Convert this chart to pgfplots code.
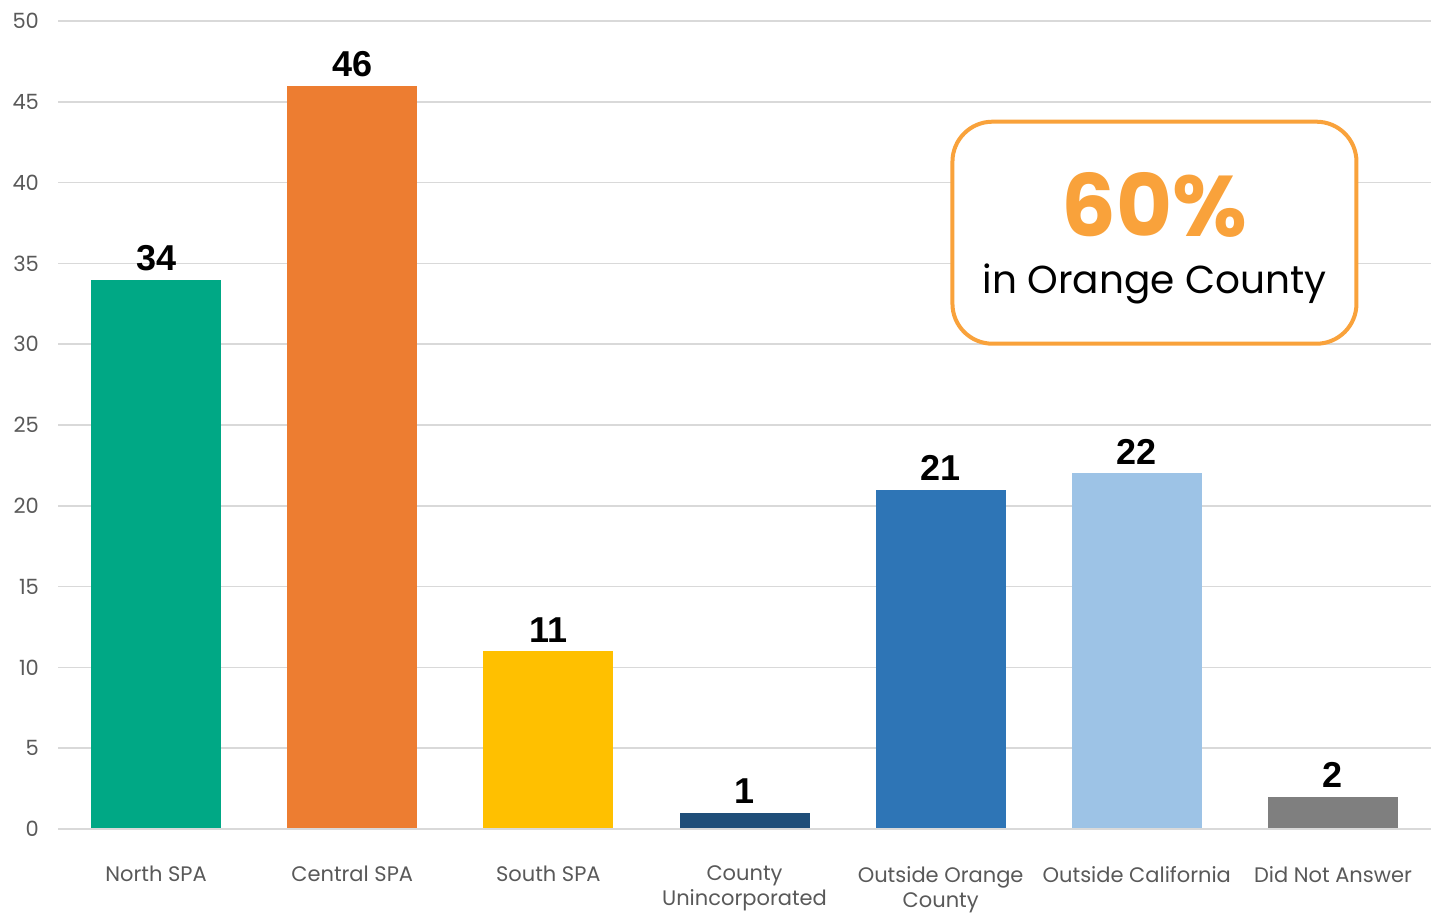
\documentclass[border=0pt]{standalone}
\usepackage{pgfplots}
\pgfplotsset{compat=1.18}
\usepackage{fontspec}
\setmainfont{Poppins}
\newfontfamily\numfont{Liberation Sans}
\definecolor{cteal}{HTML}{00A885}
\definecolor{corange}{HTML}{ED7D31}
\definecolor{cyellow}{HTML}{FFC000}
\definecolor{cnavy}{HTML}{1F4E79}
\definecolor{cblue}{HTML}{2E75B6}
\definecolor{clblue}{HTML}{9DC3E6}
\definecolor{cgray}{HTML}{7F7F7F}
\definecolor{gridc}{HTML}{D9D9D9}
\definecolor{tickc}{HTML}{595959}
\definecolor{boxc}{HTML}{F9A23B}
\begin{document}
\begin{tikzpicture}
\begin{axis}[
  scale only axis, width=686.5pt, height=404pt,
  xmin=-0.5, xmax=6.5, ymin=0, ymax=50,
  ytick={0,5,...,50},
  xtick={0,1,2,3,4,5,6},
  xticklabels={North SPA, Central SPA, South SPA, County\\Unincorporated, Outside Orange\\County, Outside California, Did Not Answer},
  axis line style={draw=none},
  ymajorgrids, major grid style={gridc, line width=0.8pt},
  major tick length=0pt,
  tick label style={font=\fontsize{10.5}{12.5}\selectfont, text=tickc},
  xticklabel style={align=center, anchor=north, yshift=-15pt},
  yticklabel style={xshift=-6pt},
  /pgf/number format/assume math mode=true,
  ybar, bar width=65pt, bar shift=0pt,
  nodes near coords,
  every node near coord/.append style={font=\numfont\bfseries\fontsize{18}{20}\selectfont, text=black, yshift=1pt},
  clip=false,
]
\addplot[fill=cteal, draw=none] coordinates {(0,34)};
\addplot[fill=corange, draw=none] coordinates {(1,46)};
\addplot[fill=cyellow, draw=none] coordinates {(2,11)};
\addplot[fill=cnavy, draw=none] coordinates {(3,1)};
\addplot[fill=cblue, draw=none] coordinates {(4,21)};
\addplot[fill=clblue, draw=none] coordinates {(5,22)};
\addplot[fill=cgray, draw=none] coordinates {(6,2)};
\draw[gridc, line width=0.8pt] (rel axis cs:0,0) -- (rel axis cs:1,0);
\node[draw=boxc, line width=2pt, rounded corners=20pt, fill=white,
      minimum width=202pt, minimum height=111pt, align=center, inner sep=0pt]
  at (axis cs:5.09,36.9) {};
\node[text=boxc, font=\bfseries\fontsize{43}{45}\selectfont] at (axis cs:5.09,38.6) {60\%};
\node[font=\fontsize{19.5}{22}\selectfont] at (axis cs:5.09,33.7) {in Orange County};
\coordinate (bl) at (rel axis cs:0,0);
\coordinate (tr) at (rel axis cs:1,1);
\end{axis}
\pgfresetboundingbox
\useasboundingbox ([shift={(-29pt,-41.5pt)}]bl) rectangle ([shift={(0.5pt,10.5pt)}]tr);
\end{tikzpicture}
\end{document}
